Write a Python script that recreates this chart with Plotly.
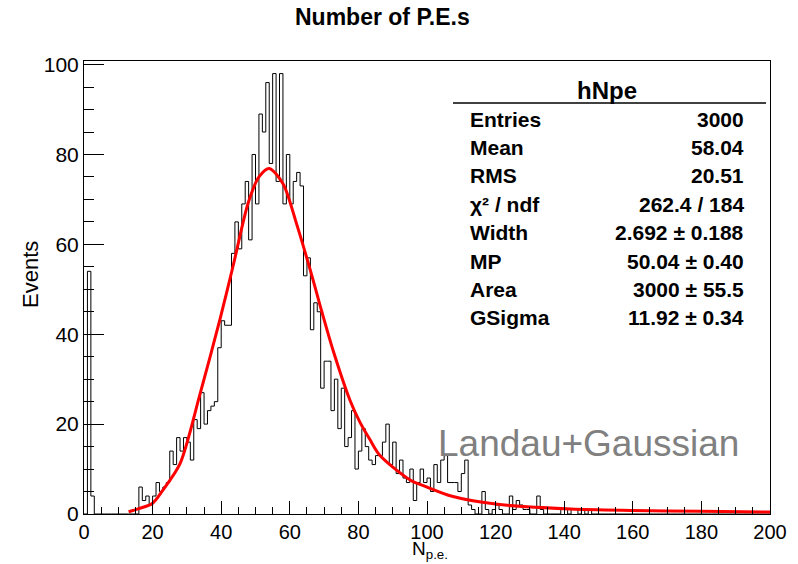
import numpy as np
import plotly.graph_objects as go

# ---- data ----
bin_edges = list(range(0, 201))
counts = [0, 54, 4] + [0] * 13 + [
    6, 3, 4, 2, 4, 7, 5, 6, 7, 14,          # 16-25
    11, 17, 14, 17, 16, 12, 21, 19, 27, 20,  # 26-35
    23, 24, 25, 37, 43, 42, 42, 58, 65, 59,  # 36-45
    69, 74, 61, 80, 69, 89, 85, 96, 78, 98,  # 46-55
    74, 98, 69, 80, 69, 74, 76, 73, 53, 57,  # 56-65
    41, 47, 45, 28, 34, 34, 23, 30, 19, 28,  # 66-75
    15, 17, 23, 10, 14, 19, 15, 12, 11, 13,  # 76-85
    13, 16, 20, 11, 16, 9, 12, 8, 7, 10,     # 86-95
    3, 7, 10, 7, 8, 5, 11, 7, 12, 13,        # 96-105
    7, 7, 7, 5, 9, 12, 2, 1, 0, 0,           # 106-115
    5, 1, 0, 1, 2, 1, 0, 0, 4, 1,            # 116-125
    3, 2, 1, 1, 0, 0, 4, 1, 0, 0,            # 126-135
    0, 0, 0, 1, 1, 0, 1, 1, 0, 1,            # 136-145
    0, 1,                                    # 146-147
]
counts = counts + [0] * (200 - len(counts))

fit_x = [13, 16, 20, 23, 28, 33.8, 39.6, 43.5, 47.9, 51, 54, 58.1, 62, 66, 68.8,
         72.7, 77.6, 80.4, 83.4, 86.3, 95.2, 100, 107, 120, 142, 160, 180, 200]
fit_y = [0.5, 1.2, 2.4, 5.3, 11.2, 26.6, 43.2, 55.3, 69.3, 75.0, 76.9, 73.4, 64.5,
         54.2, 46.5, 36.2, 25.2, 20.5, 16.5, 13.0, 7.5, 6.0, 4.0, 2.2, 1.1, 0.8,
         0.6, 0.45]

x_ticks = [0, 20, 40, 60, 80, 100, 120, 140, 160, 180, 200]
y_ticks = [0, 20, 40, 60, 80, 100]

stats_labels = ["Entries", "Mean", "RMS", "χ² / ndf", "Width", "MP", "Area", "GSigma"]
stats_values = ["3000", "58.04", "20.51", "262.4 / 184", "2.692 ± 0.188",
                "50.04 ± 0.40", "3000 ± 55.5", "11.92 ± 0.34"]

# ---- figure ----
W, H = 798, 564
L, R, T, B = 84, 28, 61, 50
FONT = "Arial, Liberation Sans, sans-serif"


def px(x):
    return (x - L) / (W - L - R)


def py(y):
    return (H - B - y) / (H - T - B)


fig = go.Figure()

hx = [bin_edges[0]] + bin_edges
hy = [0] + counts + [counts[-1]]
fig.add_trace(go.Scatter(x=hx, y=hy, mode="lines", line=dict(color="black", width=1, shape="hv"),
                         hoverinfo="skip", showlegend=False))
fig.add_trace(go.Scatter(x=fit_x, y=fit_y, mode="lines",
                         line=dict(color="#ff0000", width=3, shape="spline", smoothing=0.8),
                         showlegend=False))

fig.update_xaxes(range=[0, 200], tickvals=x_ticks, ticks="inside", ticklen=13, tickwidth=1,
                 tickcolor="black", minor=dict(dtick=5, ticks="inside", ticklen=7, tickcolor="black"),
                 showline=True, mirror=True, linecolor="black", linewidth=1, showgrid=False,
                 zeroline=False,
                 tickfont=dict(family=FONT, size=20, color="black"))
fig.update_yaxes(range=[0, 100.8], tickvals=y_ticks, ticks="inside", ticklen=20, tickwidth=1,
                 tickcolor="black", minor=dict(dtick=5, ticks="inside", ticklen=10, tickcolor="black"),
                 showline=True, mirror=True, linecolor="black", linewidth=1, showgrid=False,
                 zeroline=False, tickfont=dict(family=FONT, size=21, color="black"))


def note(text, x, y, size, color="black", xanchor="center", angle=0):
    return dict(text=text, x=px(x), y=py(y), xref="paper", yref="paper", xanchor=xanchor,
                yanchor="middle", textangle=angle, showarrow=False,
                font=dict(family=FONT, size=size, color=color))


ann = [
    note("<b>Number of P.E.s</b>", 382, 17, 23),
    note("Events", 30, 274, 22, angle=-90),
    note("N<sub>p.e.</sub>", 430, 550, 19),
    note("Landau+Gaussian", 588, 443, 37, color="#808080"),
    note("<b>hNpe</b>", 607, 90, 24),
]
for i, (lab, val) in enumerate(zip(stats_labels, stats_values)):
    yy = 119 + i * 28.4
    ann.append(note(f"<b>{lab}</b>", 468, yy, 21, xanchor="left"))
    ann.append(note(f"<b>{val}</b>", 746, yy, 21, xanchor="right"))

fig.update_layout(
    width=W, height=H, margin=dict(l=L, r=R, t=T, b=B),
    paper_bgcolor="white", plot_bgcolor="white",
    annotations=ann,
    shapes=[dict(type="line", xref="paper", yref="paper", x0=px(453), x1=px(766),
                 y0=py(103), y1=py(103), line=dict(color="black", width=1.5))],
)

fig.write_html("out.html")
